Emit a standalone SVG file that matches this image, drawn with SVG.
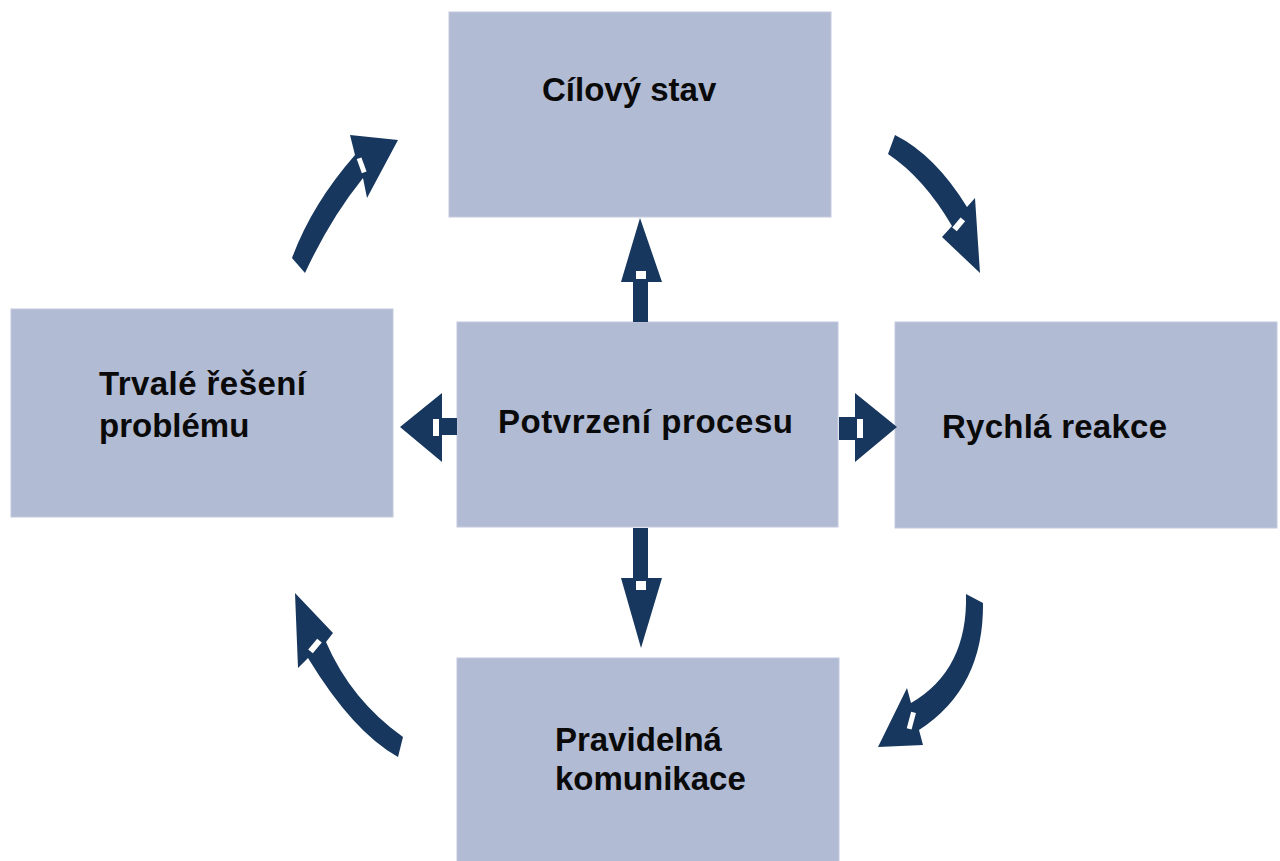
<svg xmlns="http://www.w3.org/2000/svg" width="1280" height="861" viewBox="0 0 1280 861">
<style>
.box{fill:#b1bbd4;stroke:#c3cadd;stroke-width:1}
.lbl{font-family:"Liberation Sans",Arial,sans-serif;font-weight:bold;font-size:33px;fill:#0a0a0a}
.arr{fill:#17375e}
.notch{fill:#ffffff}
</style>
<rect width="1280" height="861" fill="#ffffff"/>
<g id="node-cilovy">
<rect class="box" x="449" y="12" width="382" height="205"/>
<text class="lbl" x="542" y="101">Cílový stav</text>
</g>
<g id="node-trvale">
<rect class="box" x="11" y="309" width="382" height="208"/>
<text class="lbl" x="99" y="395" textLength="207">Trvalé řešení</text>
<text class="lbl" x="99" y="437">problému</text>
</g>
<g id="node-potvrzeni">
<rect class="box" x="457" y="322" width="381" height="205"/>
<text class="lbl" x="498" y="433" textLength="295">Potvrzení procesu</text>
</g>
<g id="node-rychla">
<rect class="box" x="895" y="322" width="382" height="206"/>
<text class="lbl" x="942" y="438" textLength="225">Rychlá reakce</text>
</g>
<g id="node-pravidelna">
<rect class="box" x="457" y="658" width="382" height="210"/>
<text class="lbl" x="555" y="751">Pravidelná</text>
<text class="lbl" x="555" y="790">komunikace</text>
</g>
<g id="connectors">
<path class="arr" d="M633,322 L633,282 L621,282 L640,218 L662,282 L648,282 L648,322 Z"/>
<rect class="notch" x="636" y="271" width="10" height="8"/>
<path class="arr" d="M633,528 L648,528 L648,578 L662,578 L641,648 L621,578 L633,578 Z"/>
<rect class="notch" x="636" y="581" width="10" height="9"/>
<path class="arr" d="M457,418 L442,418 L442,393 L400,427 L442,462 L442,435 L457,435 Z"/>
<rect class="notch" x="433" y="419" width="6" height="17"/>
<path class="arr" d="M839,417 L855,417 L855,393 L897,427 L855,462 L855,440 L839,440 Z"/>
<rect class="notch" x="857" y="419" width="6" height="19"/>
<path class="arr" d="M292,258 Q312,204 355,155 L350,135 L398,140 L367,198 L363,178 Q330,219 305,273 Z"/>
<rect class="notch" x="359" y="158" width="5" height="15" transform="rotate(-20 361 165)"/>
<path class="arr" d="M895,135 Q935,155 967,207 L975,198 L980,273 L942,237 L952,226 Q924,178 888,154 Z"/>
<rect class="notch" x="956" y="218" width="6" height="13" transform="rotate(40 959 224)"/>
<path class="arr" d="M966,594 Q968,670 911,703 L907,688 L878,747 L923,745 L919,730 Q984,688 983,603 Z"/>
<rect class="notch" x="909" y="712" width="5" height="17" transform="rotate(15 911 720)"/>
<path class="arr" d="M403,737 Q351,700 326,642 L333,633 L295,593 L298,668 L308,658 Q353,732 398,757 Z"/>
<rect class="notch" x="312" y="639" width="6" height="14" transform="rotate(40 315 646)"/>
</g>
</svg>
